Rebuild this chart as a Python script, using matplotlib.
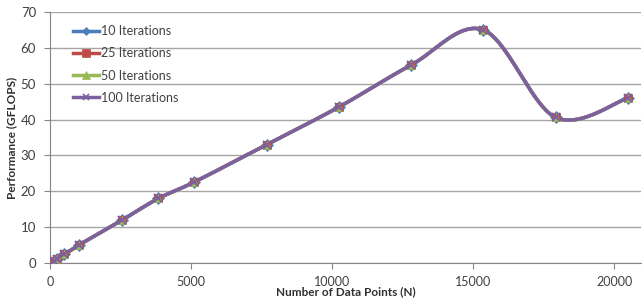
import numpy as np
import matplotlib
matplotlib.use("Agg")
import matplotlib.pyplot as plt

plt.rcParams['font.family'] = ['Lato', 'DejaVu Sans']

n_points = [128, 256, 512, 1024, 2560, 3840, 5120, 7680, 10240, 12800, 15360, 17920, 20480]
gflops_10 = [0.5, 1.2, 2.4, 5.0, 12.0, 18.0, 22.6, 33.0, 43.5, 55.2, 65.0, 40.6, 46.0]
gflops_25 = [0.5, 1.2, 2.4, 5.0, 12.0, 18.0, 22.6, 33.0, 43.5, 55.2, 65.0, 40.6, 46.0]
gflops_50 = [0.5, 1.2, 2.4, 5.0, 12.0, 18.0, 22.6, 33.0, 43.5, 55.2, 65.0, 40.6, 46.0]
gflops_100 = [0.5, 1.2, 2.4, 5.0, 12.0, 18.0, 22.6, 33.0, 43.5, 55.2, 65.0, 40.6, 46.0]
labels = ["10 Iterations", "25 Iterations", "50 Iterations", "100 Iterations"]
colors = ["#4A7EBB", "#BE4B48", "#98B954", "#7D60A0"]
markers = ["D", "s", "^", "x"]


def smooth(x, y, n=40):
    x = np.asarray(x, float)
    y = np.asarray(y, float)
    P = np.column_stack([x, y])
    out = [P[0]]
    for i in range(len(P) - 1):
        p0 = P[i - 1] if i > 0 else P[i]
        p1 = P[i]
        p2 = P[i + 1]
        p3 = P[i + 2] if i + 2 < len(P) else P[i + 1]
        c1 = p1 + (p2 - p0) / 6.0
        c2 = p2 - (p3 - p1) / 6.0
        t = np.linspace(0, 1, n)[1:, None]
        seg = ((1 - t) ** 3) * p1 + 3 * ((1 - t) ** 2) * t * c1 + 3 * (1 - t) * t ** 2 * c2 + t ** 3 * p2
        out.extend(seg)
    out = np.array(out)
    return out[:, 0], out[:, 1]


fig = plt.figure(figsize=(6.42, 2.99), dpi=100)
ax = fig.add_axes([50 / 642, 36 / 299, 591 / 642, 251 / 299])

series = [gflops_10, gflops_25, gflops_50, gflops_100]
leg_sizes = {"D": 4.5, "s": 6, "^": 6, "x": 5}
for ys, lab, c, m in zip(series, labels, colors, markers):
    sx, sy = smooth(n_points, ys)
    ax.plot(sx, sy, color=c, lw=2.5, zorder=3)
    ax.plot(n_points, ys, linestyle="none", marker=m, color=c, markersize=6,
            markeredgecolor=c, markeredgewidth=1.5 if m == "x" else 0.5, zorder=4)
    ax.plot([], [], color=c, lw=2.5, marker=m, markersize=leg_sizes[m],
            markeredgewidth=1.2 if m == "x" else 0.5, label=lab)

ax.set_xlim(0, 20950)
ax.set_ylim(0, 70)
ax.set_xticks([0, 5000, 10000, 15000, 20000])
ax.set_yticks(range(0, 71, 10))
ax.yaxis.grid(True, color="#A6A6A6", lw=1)
ax.set_axisbelow(True)
for s in ["top", "right"]:
    ax.spines[s].set_visible(False)
for s in ["left", "bottom"]:
    ax.spines[s].set_color("#868686")
ax.tick_params(axis="x", colors="#868686", length=4, labelcolor="#404040", labelsize=9, pad=5)
ax.tick_params(axis="y", colors="#868686", length=4, labelcolor="#404040", labelsize=9.5, pad=6)

ax.set_xlabel("Number of Data Points (N)", fontsize=8.5, fontweight="bold", color="#303030")
ax.set_ylabel("Performance (GFLOPS)", fontsize=8.5, fontweight="bold", color="#303030")
ax.xaxis.set_label_coords(0.5, -0.093)
ax.yaxis.set_label_coords(-0.056, 0.5)

leg = ax.legend(loc="upper left", bbox_to_anchor=(0.039, 0.948), frameon=False, fontsize=9,
                handlelength=2.1, handletextpad=0.15, labelspacing=0.82, borderaxespad=0,
                borderpad=0)
for t in leg.get_texts():
    t.set_color("#404040")

fig.savefig("out.png", dpi=100)
